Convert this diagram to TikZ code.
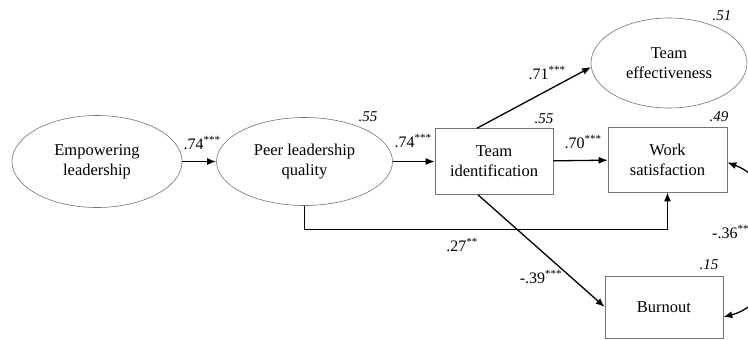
\documentclass[tikz,border=0pt]{standalone}
\usepackage{fontspec}
\setmainfont{Liberation Serif}
\usetikzlibrary{arrows.meta,shapes.geometric}

\tikzset{
  box/.style={draw=black!55, line width=0.6pt, rectangle, minimum width=118pt,
    minimum height=66pt, align=center, font=\fontsize{16.5}{20}\selectfont},
  oval/.style={draw=black!55, line width=0.6pt, ellipse, inner sep=0pt, align=center,
    font=\fontsize{16.5}{20}\selectfont},
  arr/.style={draw=black, line width=1.3pt, -{Latex[length=9pt,width=7pt]}},
  dbl/.style={draw=black, line width=1.3pt, {Latex[length=9pt,width=7pt]}-{Latex[length=9pt,width=7pt]}},
  coef/.style={font=\fontsize{16}{18}\selectfont, inner sep=0pt},
  rsq/.style={font=\fontsize{15}{18}\selectfont\itshape, inner sep=0pt}
}
\newcommand{\stars}[1]{\textsuperscript{\fontsize{11}{12}\selectfont #1}}

\begin{document}
\begin{tikzpicture}[x=1pt,y=-1pt]
\useasboundingbox (0,0) rectangle (748,340);
\clip (0,0) rectangle (748,340);

% constructs
\node[oval, minimum width=170pt, minimum height=92pt] (emp) at (97,161.5) {Empowering\\leadership};
\node[oval, minimum width=176pt, minimum height=88pt] (pl) at (304.5,161.5) {Peer leadership\\quality};
\node[box] (ti) at (494,161.5) {Team\\identification};
\node[box, minimum width=119pt, minimum height=65pt] (ws) at (667.5,159.5) {Work\\satisfaction};
\node[oval, minimum width=156pt, minimum height=90pt] (te) at (669,63) {Team\\effectiveness};
\node[box, minimum height=62pt] (bo) at (664,307) {Burnout};

% explained variance
\node[rsq] (r2pl) at (368,117) {.55};
\node[rsq] (r2ti) at (544,119) {.55};
\node[rsq] (r2ws) at (719,117) {.49};
\node[rsq] (r2te) at (722,16) {.51};
\node[rsq] (r2bo) at (709,265) {.15};

% paths
\draw[arr] (emp) -- (pl);
\draw[arr] (pl) -- (ti);
\draw[arr] (ti) -- (ws);
\draw[arr] ([xshift=-17pt]ti.north) -- (te.183);
\draw[arr] ([xshift=-16pt]ti.south) -- (bo.west);
\draw[arr] (pl.south) -- ++(0,24) -| (ws.south);
\draw[dbl] ([yshift=-3pt]ws.east) .. controls (790,185) and (790,300) .. ([yshift=-10pt]bo.east);

% path coefficients
\node[coef] (c1) at (202,143) {.74\stars{***}};
\node[coef] (c2) at (413,141) {.74\stars{***}};
\node[coef] (c3) at (583,142) {.70\stars{***}};
\node[coef] (c4) at (547,73) {.71\stars{***}};
\node[coef] (c5) at (541,277) {-.39\stars{***}};
\node[coef] (c6) at (462,245) {.27\stars{**}};
\node[coef, anchor=west] (c7) at (712,232) {-.36\stars{**}};
\end{tikzpicture}
\end{document}
